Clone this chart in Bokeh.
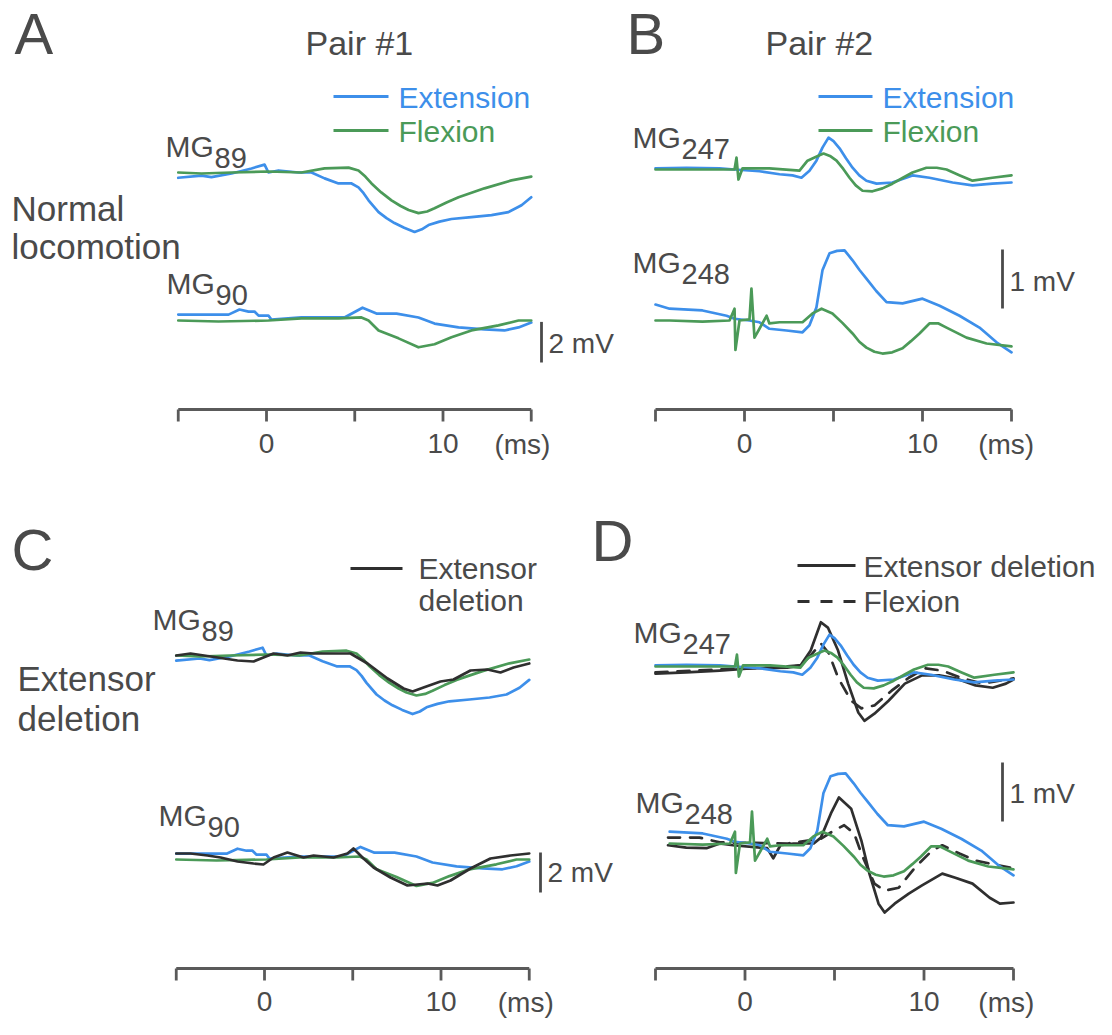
import numpy as np
from bokeh.plotting import figure
from bokeh.models import Range1d
from bokeh.embed import file_html
from bokeh.resources import INLINE
from bokeh.core.properties import value

# ---------------- data (time in ms, potential in mV) ----------------
# Pair #1 : MG89 / MG90 (panels A and C)
mg89_ext_t = [-5.0, -3.68, -3.12, -1.98, -0.85, -0.11, 0.11, 0.68, 1.81, 2.55, 3.29, 4.08, 4.82, 5.21, 5.50, 5.78,
              6.35, 6.80, 7.25, 7.80, 8.39, 8.80, 9.18, 9.80, 10.48, 11.61, 12.75, 13.71, 14.45, 15.0]
mg89_ext_v = [-0.26, -0.15, -0.23, -0.05, 0.20, 0.39, 0.0, 0.10, 0.0, 0.0, -0.29, -0.54, -0.54, -0.73, -1.02, -1.37,
              -1.95, -2.25, -2.49, -2.72, -2.93, -2.80, -2.59, -2.42, -2.29, -2.20, -2.10, -1.95, -1.61, -1.22]
mg89_flx_t = [-5.0, -3.68, -1.98, 0.11, 1.98, 3.29, 4.65, 5.21, 5.60, 5.95, 6.50, 7.08, 7.60, 8.05, 8.61, 9.10, 9.52,
              10.20, 10.88, 12.35, 13.88, 15.0]
mg89_flx_v = [0.0, -0.05, 0.0, 0.05, 0.0, 0.20, 0.24, 0.10, -0.20, -0.54, -0.98, -1.37, -1.65, -1.85, -2.0, -1.92,
              -1.76, -1.48, -1.22, -0.78, -0.39, -0.20]
mg89_del_t = [-5.0, -4.19, -2.66, -1.53, -0.62, -0.06, 0.51, 1.30, 2.04, 2.78, 3.91, 4.87, 5.84, 6.97, 7.88, 8.39,
              9.01, 9.97, 10.71, 11.67, 12.63, 13.37, 14.11, 15.0]
mg89_del_v = [0.0, 0.10, -0.10, -0.25, -0.30, -0.10, 0.10, 0.0, 0.15, 0.10, 0.10, 0.10, -0.40, -1.15, -1.65, -1.80,
              -1.60, -1.30, -1.20, -0.75, -0.70, -0.85, -0.60, -0.40]

mg90_ext_t = [-5.0, -3.68, -2.15, -1.53, -1.02, -0.68, -0.45, 0.11, 0.28, 1.98, 3.29, 4.42, 5.44, 6.23, 7.37, 8.61,
              9.52, 10.88, 12.35, 13.48, 14.28, 15.0]
mg90_ext_v = [0.29, 0.29, 0.29, 0.54, 0.44, 0.44, 0.24, 0.24, 0.05, 0.15, 0.15, 0.15, 0.63, 0.34, 0.34, 0.15,
              -0.15, -0.34, -0.44, -0.49, -0.34, -0.10]
mg90_flx_t = [-5.0, -2.72, 0.11, 1.98, 4.08, 5.38, 5.78, 6.35, 7.48, 8.61, 9.52, 10.48, 11.61, 13.14, 14.28, 15.0]
mg90_flx_v = [0.0, -0.05, 0.0, 0.10, 0.10, 0.15, 0.0, -0.49, -0.88, -1.32, -1.17, -0.83, -0.49, -0.24, 0.0, 0.0]
mg90_del_t = [-5.0, -4.19, -3.23, -2.49, -1.53, -0.62, -0.06, 0.51, 1.30, 2.21, 2.78, 3.91, 4.70, 5.04, 5.61, 6.18,
              7.14, 8.10, 9.24, 9.80, 10.54, 11.67, 12.80, 13.94, 15.0]
mg90_del_v = [0.30, 0.30, 0.20, 0.10, -0.10, -0.20, -0.25, 0.10, 0.35, 0.10, 0.20, 0.10, 0.30, 0.55, 0.05, -0.40,
              -0.90, -1.30, -1.20, -1.30, -1.05, -0.45, 0.05, 0.20, 0.30]

# Pair #2 : MG247 / MG248 (panels B and D)
mg247_ext_t = [-5.0, -3.26, -1.40, -0.56, 0.84, 1.97, 2.70, 3.20, 3.65, 4.04, 4.38, 4.72, 5.00, 5.34, 5.70, 6.07,
               6.45, 6.85, 7.42, 8.31, 9.44, 10.39, 11.69, 12.81, 13.93, 15.0]
mg247_ext_v = [0.02, 0.03, 0.02, 0.0, -0.03, -0.08, -0.10, -0.14, -0.02, 0.15, 0.37, 0.54, 0.48, 0.36, 0.19, 0.03,
               -0.10, -0.19, -0.24, -0.22, -0.10, -0.14, -0.22, -0.27, -0.24, -0.22]
mg247_flx_t = [-5.0, -1.40, -0.56, -0.45, -0.34, -0.11, 1.40, 3.09, 3.54, 4.21, 4.44, 4.80, 5.17, 5.55, 5.90, 6.25,
               6.63, 7.19, 7.75, 8.31, 8.90, 9.44, 10.22, 10.80, 11.35, 12.10, 12.81, 13.93, 15.0]
mg247_flx_v = [0.0, 0.0, 0.0, 0.20, -0.17, 0.02, 0.02, -0.02, 0.15, 0.24, 0.27, 0.23, 0.15, 0.01, -0.14, -0.27,
               -0.36, -0.37, -0.32, -0.24, -0.14, -0.05, 0.03, 0.03, 0.0, -0.10, -0.19, -0.14, -0.10]
mg247_del_t = [-5.0, -3.28, -1.41, 0.45, 2.37, 3.11, 3.67, 4.24, 4.63, 5.20, 5.76, 6.33, 6.67, 7.23, 8.02, 8.93,
               9.89, 10.85, 11.75, 12.88, 13.84, 14.58, 15.0]
mg247_del_v = [-0.12, -0.10, -0.07, -0.03, -0.02, 0.02, 0.27, 0.75, 0.66, 0.27, -0.29, -0.78, -0.92, -0.80, -0.58,
               -0.29, -0.15, -0.15, -0.20, -0.32, -0.36, -0.29, -0.22]
mg247_dfl_t = [-5.0, -1.41, 1.41, 3.11, 3.67, 4.24, 4.69, 5.20, 5.93, 6.50, 7.23, 8.19, 9.15, 10.06, 11.02, 12.15,
               13.28, 15.0]
mg247_dfl_v = [-0.10, -0.05, -0.02, 0.02, 0.19, 0.39, 0.22, -0.19, -0.58, -0.71, -0.66, -0.41, -0.19, -0.03, -0.07,
               -0.20, -0.29, -0.20]

mg248_ext_t = [-5.0, -4.21, -2.36, -1.01, -0.56, 0.28, 0.84, 1.40, 2.36, 3.26, 3.65, 4.04, 4.38, 4.78, 5.20, 5.62,
               6.07, 6.45, 6.85, 7.40, 7.98, 8.88, 10.0, 10.96, 12.08, 13.20, 14.16, 15.0]
mg248_ext_v = [0.27, 0.20, 0.17, 0.08, 0.03, 0.0, -0.03, -0.14, -0.17, -0.20, -0.08, 0.22, 0.85, 1.14, 1.18, 1.19,
               1.02, 0.86, 0.71, 0.50, 0.31, 0.29, 0.37, 0.25, 0.08, -0.12, -0.37, -0.54]
mg248_flx_t = [-5.0, -4.21, -2.36, -0.84, -0.56, -0.51, -0.28, 0.28, 0.39, 0.56, 0.84, 1.24, 1.40, 1.97, 3.26, 3.82,
               4.33, 4.94, 5.50, 6.07, 6.45, 6.85, 7.30, 7.75, 8.30, 8.88, 9.35, 9.83, 10.39, 10.90, 11.35, 12.47,
               13.60, 15.0]
mg248_flx_v = [0.0, 0.0, -0.02, 0.0, 0.20, -0.50, 0.0, 0.02, 0.54, -0.29, -0.14, 0.08, -0.05, -0.03, -0.03, 0.12,
               0.20, 0.12, -0.04, -0.22, -0.36, -0.46, -0.53, -0.56, -0.54, -0.47, -0.35, -0.22, -0.05, -0.05, -0.12,
               -0.29, -0.39, -0.44]
mg248_del_t = [-4.3, -3.28, -2.15, -1.41, -0.68, 0.85, 1.24, 1.58, 1.98, 2.71, 3.84, 4.24, 4.80, 5.25, 5.93, 6.50,
               6.95, 7.46, 7.80, 8.36, 9.15, 9.89, 11.02, 11.75, 12.71, 13.67, 14.24, 15.0]
mg248_del_v = [-0.03, -0.07, -0.08, 0.0, -0.03, -0.07, -0.08, -0.25, -0.03, 0.0, 0.0, 0.10, 0.51, 0.78, 0.59, 0.05,
               -0.51, -1.02, -1.17, -1.02, -0.85, -0.71, -0.51, -0.58, -0.68, -0.92, -1.02, -1.0]
mg248_dfl_t = [-4.3, -2.54, -1.41, 2.37, 4.24, 4.97, 5.54, 6.10, 6.50, 7.23, 7.80, 8.59, 9.49, 10.45, 11.02, 11.98,
               12.88, 13.67, 15.0]
mg248_dfl_v = [0.10, 0.10, 0.02, 0.0, 0.08, 0.22, 0.31, 0.17, -0.17, -0.68, -0.80, -0.75, -0.41, -0.12, -0.03,
               -0.17, -0.29, -0.34, -0.42]

axis_ticks = [-5, 0, 5, 10, 15]
axis_labels = {0: "0", 10: "10"}

# ---------------- styling ----------------
W, H = 1112, 1035
FONT = "Liberation Sans"
TXT = "#4a4a4a"
BLUE = "#3d8fea"
GREEN = "#4b9a58"
BLACK = "#2f2f2f"
LW = 2.7

p = figure(width=W, height=H, x_range=Range1d(0, W), y_range=Range1d(H, 0),
           output_backend="svg", toolbar_location=None, min_border=0,
           x_axis_location=None, y_axis_location=None)
p.outline_line_color = None
p.grid.visible = False
p.background_fill_color = "white"
p.border_fill_color = "white"

# panel scales: x0 = pixel of 0 ms, sx = px per ms, k = px per mV
panels = {
    "A": dict(x0=266.0, sx=17.65, k=20.3),
    "B": dict(x0=744.0, sx=17.8, k=59.0),
    "C": dict(x0=264.0, sx=17.65, k=20.0),
    "D": dict(x0=744.5, sx=17.9, k=59.0),
}
for name, c in panels.items():
    p.extra_x_ranges[name] = Range1d(-c["x0"] / c["sx"], (W - c["x0"]) / c["sx"])
    p.extra_y_ranges[name] = Range1d(-H / c["k"], 0)


def txt(x, y, s, size, color=TXT, align="left", **kw):
    p.text(x=[x], y=[y], text=[s], text_font=value(FONT), text_font_size=f"{size}px",
           text_color=color, text_baseline="middle", text_align=align, **kw)


def trace(panel, t, v, base, color, dash="solid", width=LW, tmin=-5.0):
    c = panels[panel]
    t = np.asarray(t, dtype=float)
    v = np.asarray(v, dtype=float)
    m = t >= tmin
    p.line(t[m], v[m] - base / c["k"], x_range_name=panel, y_range_name=panel,
           line_color=color, line_width=width, line_dash=dash, line_join="round", line_cap="round")


def time_axis(panel, y_line, y_lab, ms_pos):
    n = len(axis_ticks)
    p.segment(x0=[axis_ticks[0]], x1=[axis_ticks[-1]], y0=[y_line], y1=[y_line],
              x_range_name=panel, line_color="#5a5a5a", line_width=2.8)
    p.segment(x0=axis_ticks, x1=axis_ticks, y0=[y_line] * n, y1=[y_line + 12] * n,
              x_range_name=panel, line_color="#5a5a5a", line_width=2.8)
    xs = list(axis_labels.keys())
    p.text(x=xs, y=[y_lab] * len(xs), text=[axis_labels[k] for k in xs], x_range_name=panel,
           text_font=value(FONT), text_font_size="28px", text_color=TXT,
           text_align="center", text_baseline="middle")
    p.text(x=[ms_pos], y=[y_lab + 1], text=["(ms)"], x_range_name=panel,
           text_font=value(FONT), text_font_size="28px", text_color=TXT,
           text_align="center", text_baseline="middle")


def scale_bar(panel, x, y_bottom, mv, label, y_text):
    c = panels[panel]
    yb = -y_bottom / c["k"]
    p.segment(x0=[x], x1=[x], y0=[yb], y1=[yb + mv], y_range_name=panel,
              line_color="#4a4a4a", line_width=2.8)
    txt(x + 7, y_text, label, 28)


def mg_label(x, y, sub):
    txt(x, y, "MG", 30)
    txt(x + 49, y + 11, sub, 29)


def legend_line(x0, x1, y, color, dash="solid"):
    p.segment(x0=[x0], x1=[x1], y0=[y], y1=[y], line_color=color, line_width=2.8, line_dash=dash)


# ---------------- Panel A ----------------
txt(14, 33, "A", 58)
txt(305, 42, "Pair #1", 34)
legend_line(333, 388, 96, BLUE)
txt(398, 97, "Extension", 30, color=BLUE)
legend_line(333, 388, 130, GREEN)
txt(398, 131, "Flexion", 30, color=GREEN)
mg_label(165, 146, "89")
txt(11, 208, "Normal", 35)
txt(11, 246, "locomotion", 35)
mg_label(166, 283, "90")
trace("A", mg89_ext_t, mg89_ext_v, 172, BLUE)
trace("A", mg89_flx_t, mg89_flx_v, 172, GREEN)
trace("A", mg90_ext_t, mg90_ext_v, 320, BLUE)
trace("A", mg90_flx_t, mg90_flx_v, 320, GREEN)
scale_bar("A", 541, 362, 2, "2 mV", 343)
time_axis("A", 409, 443, 14.5)

# ---------------- Panel B ----------------
txt(626, 33, "B", 58)
txt(765, 42, "Pair #2", 34)
legend_line(818, 872, 96, BLUE)
txt(882, 97, "Extension", 30, color=BLUE)
legend_line(818, 872, 130, GREEN)
txt(882, 131, "Flexion", 30, color=GREEN)
mg_label(632, 137, "247")
mg_label(632, 262, "248")
trace("B", mg247_ext_t, mg247_ext_v, 169, BLUE)
trace("B", mg247_flx_t, mg247_flx_v, 169, GREEN)
trace("B", mg248_ext_t, mg248_ext_v, 320, BLUE)
trace("B", mg248_flx_t, mg248_flx_v, 320, GREEN)
scale_bar("B", 1002, 308, 1, "1 mV", 281)
time_axis("B", 409, 443, 14.7)

# ---------------- Panel C ----------------
txt(11, 549, "C", 58)
legend_line(350, 402, 568, BLACK)
txt(418, 568, "Extensor", 30)
txt(418, 600, "deletion", 30)
mg_label(152, 619, "89")
txt(17, 678, "Extensor", 35)
txt(17, 718, "deletion", 35)
mg_label(158, 815, "90")
trace("C", mg89_ext_t, mg89_ext_v, 655, BLUE)
trace("C", mg89_flx_t, mg89_flx_v, 655, GREEN)
trace("C", mg89_del_t, mg89_del_v, 655, BLACK)
trace("C", mg90_ext_t, mg90_ext_v, 859, BLUE)
trace("C", mg90_flx_t, mg90_flx_v, 859, GREEN)
trace("C", mg90_del_t, mg90_del_v, 859, BLACK)
scale_bar("C", 540, 892, 2, "2 mV", 872)
time_axis("C", 968, 1001, 14.8)

# ---------------- Panel D ----------------
txt(591, 540, "D", 58)
legend_line(797, 855, 565, BLACK)
txt(863, 566, "Extensor deletion", 30)
legend_line(797, 855, 601, BLACK, dash="12 11")
txt(863, 601, "Flexion", 30)
mg_label(633, 632, "247")
mg_label(635, 802, "248")
trace("D", mg247_del_t, mg247_del_v, 666, BLACK)
trace("D", mg247_dfl_t, mg247_dfl_v, 666, BLACK, dash="12 10")
trace("D", mg247_ext_t, mg247_ext_v, 666, BLUE)
trace("D", mg247_flx_t, mg247_flx_v, 666, GREEN)
trace("D", mg248_del_t, mg248_del_v, 843, BLACK, tmin=-4.3)
trace("D", mg248_dfl_t, mg248_dfl_v, 843, BLACK, dash="12 10", tmin=-4.3)
trace("D", mg248_ext_t, mg248_ext_v, 843, BLUE, tmin=-4.3)
trace("D", mg248_flx_t, mg248_flx_v, 843, GREEN, tmin=-4.3)
scale_bar("D", 1002, 821, 1, "1 mV", 793)
time_axis("D", 968, 1001, 14.6)

open("out.html", "w").write(file_html(p, INLINE))
